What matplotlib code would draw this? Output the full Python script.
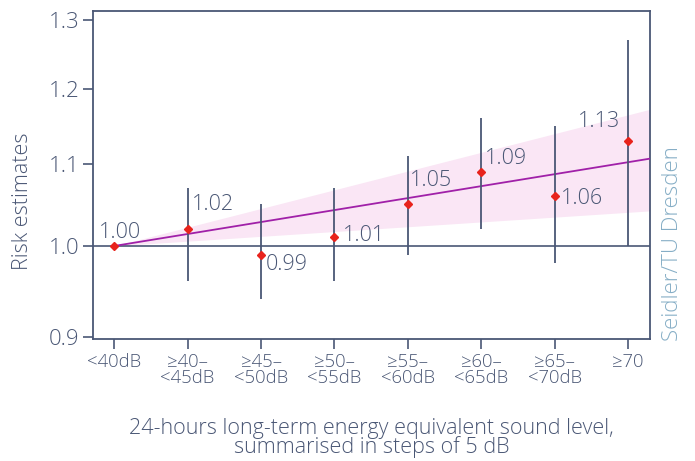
import numpy as np
import matplotlib
matplotlib.use("Agg")
import matplotlib.pyplot as plt
from matplotlib.ticker import FixedLocator, NullLocator

plt.rcParams['font.family'] = ['Open Sans', 'DejaVu Sans']
plt.rcParams['font.weight'] = 'light'
plt.rcParams['axes.labelweight'] = 'light'

# Noise exposure categories (5 dB steps)
categories = ["<40dB", "≥40–\n<45dB", "≥45–\n<50dB", "≥50–\n<55dB",
              "≥55–\n<60dB", "≥60–\n<65dB", "≥65–\n<70dB", "≥70"]
risk = [1.00, 1.02, 0.99, 1.01, 1.05, 1.09, 1.06, 1.13]
ci_low = [1.00, 0.96, 0.94, 0.96, 0.99, 1.02, 0.98, 1.00]
ci_high = [1.00, 1.07, 1.05, 1.07, 1.11, 1.16, 1.15, 1.27]
labels = ["1.00", "1.02", "0.99", "1.01", "1.05", "1.09", "1.06", "1.13"]

# Linear trend: risk ratio per 5 dB step with 95% CI
trend_rr = 1.014
trend_lo = 1.0056
trend_hi = 1.022

yticks = [0.9, 1.0, 1.1, 1.2, 1.3]

ink = "#4a5775"
pink = "#fae6f5"
purple = "#a020a8"
red = "#e8231c"
credit = "#86aec6"

fig = plt.figure(figsize=(6.95, 4.61), dpi=100)
ax = fig.add_axes([93 / 695, 1 - 339 / 461, (650 - 93) / 695, (339 - 11) / 461])
ax.set_yscale("log")

x = np.arange(len(categories))
xmin, xmax = -0.29, 7.3
ax.set_xlim(xmin, xmax)
ax.set_ylim(0.8975, 1.314)

# trend band and line, anchored at reference category
xt = np.linspace(0, xmax, 100)
ax.fill_between(xt, trend_lo ** xt, trend_hi ** xt, color=pink, lw=0, zorder=1)
ax.axhline(1.0, color=ink, lw=1.2, zorder=2)
ax.plot(xt, trend_rr ** xt, color=purple, lw=1.3, zorder=3)

# confidence intervals per category
for xi, lo, hi in zip(x, ci_low, ci_high):
    if hi > lo:
        ax.vlines(xi, lo, hi, color=ink, lw=1.3, zorder=4)
ax.plot(x, risk, linestyle="none", marker="D", ms=3.6, color=red, zorder=5)

# value labels
fs = 15.5
offsets = {
    0: dict(dx=0.08, y=1.016, ha="center"),
    1: dict(dx=0.06, y=1.049, ha="left"),
    2: dict(dx=0.06, y=0.979, ha="left"),
    3: dict(dx=0.11, y=1.012, ha="left"),
    4: dict(dx=0.03, y=1.079, ha="left"),
    5: dict(dx=0.05, y=1.107, ha="left"),
    6: dict(dx=0.08, y=1.057, ha="left"),
    7: dict(dx=-0.10, y=1.156, ha="right"),
}
for i, txt in enumerate(labels):
    o = offsets[i]
    ax.text(x[i] + o["dx"], o["y"], txt, ha=o["ha"], va="center",
            fontsize=fs, color=ink, zorder=6)

ax.yaxis.set_major_locator(FixedLocator(yticks))
ax.yaxis.set_minor_locator(NullLocator())
ax.set_yticklabels([f"{v:.1f}" for v in yticks])
ax.set_xticks(x)
ax.set_xticklabels(categories, linespacing=0.9)

for s in ax.spines.values():
    s.set_color(ink)
    s.set_linewidth(1.3)
ax.tick_params(axis="y", colors=ink, labelsize=16, length=7, width=1.2, pad=3)
ax.tick_params(axis="x", colors=ink, labelsize=13.3, length=7, width=1.2, pad=3)

ax.set_ylabel("Risk estimates", fontsize=15.5, color=ink)
ax.yaxis.set_label_coords(-0.108, 0.42)
ax.set_xlabel("24-hours long-term energy equivalent sound level,\nsummarised in steps of 5 dB",
              fontsize=15.5, color=ink, linespacing=0.85, labelpad=22)

fig.text(673 / 695, 1 - 341 / 461, "Seidler/TU Dresden", rotation=90,
         ha="center", va="bottom", fontsize=16, color=credit)

fig.savefig("out.png", dpi=100)
